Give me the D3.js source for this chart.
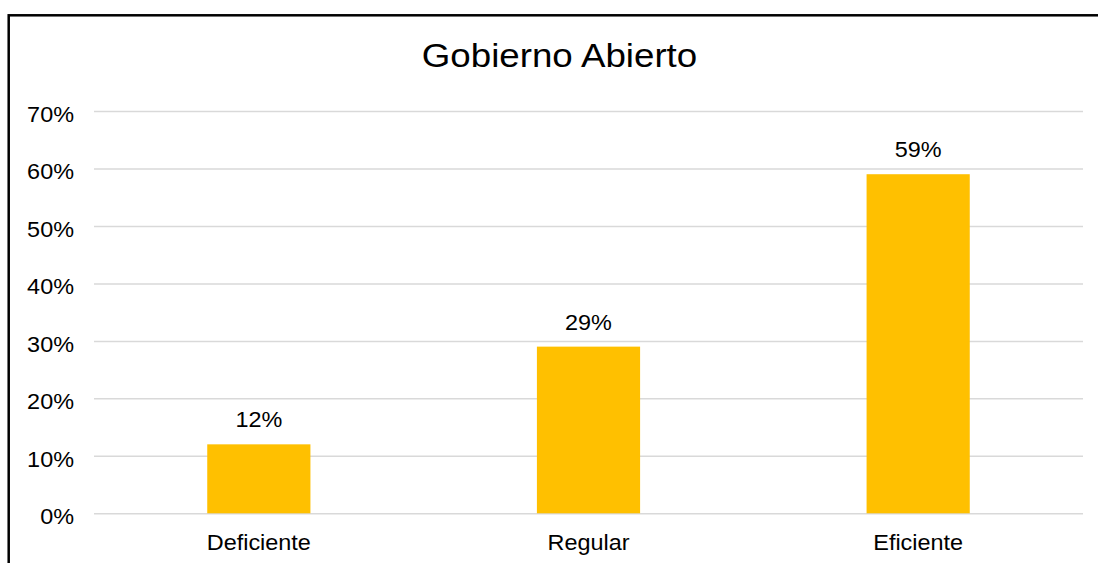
<!DOCTYPE html>
<html>
<head>
<meta charset="utf-8">
<script src="https://cdn.jsdelivr.net/npm/d3@7"></script>
<style>
  body { margin: 0; background: #fff; overflow: hidden; }
  svg { display: block; }
  text { font-family: "Liberation Sans", Arial, sans-serif; fill: #000; }
</style>
</head>
<body>
<div id="wrapper"></div>
<script>
const categories = ["Deficiente", "Regular", "Eficiente"]
const values = [0.12, 0.29, 0.59]
const yTicks = [0, 0.1, 0.2, 0.3, 0.4, 0.5, 0.6, 0.7]
const title = "Gobierno Abierto"

function drawBars () {
    const dimensions = {
        width: 1098,
        height: 563,
        margin: { top: 111, right: 15, bottom: 49.7, left: 94 },
    }
    dimensions.boundedWidth = dimensions.width
        - dimensions.margin.left - dimensions.margin.right
    dimensions.boundedHeight = dimensions.height
        - dimensions.margin.top - dimensions.margin.bottom

    // text in the reference is a bit wider than tall
    const stretch = 1.09

    const wrapper = d3.select("#wrapper")
        .append("svg")
        .attr("width", dimensions.width)
        .attr("height", dimensions.height)

    wrapper.append("rect")
        .attr("width", dimensions.width)
        .attr("height", dimensions.height)
        .attr("fill", "#fff")

    // chart frame (runs off the right and bottom edges)
    wrapper.append("rect")
        .attr("x", 8.7)
        .attr("y", 15.3)
        .attr("width", 1200)
        .attr("height", 700)
        .attr("fill", "none")
        .attr("stroke", "#000")
        .attr("stroke-width", 2.5)

    wrapper.append("text")
        .attr("transform", `translate(559.5, 67.3) scale(1.08, 1)`)
        .attr("text-anchor", "middle")
        .style("font-size", "34px")
        .text(title)

    const bounds = wrapper.append("g")
        .attr("transform", `translate(${dimensions.margin.left}, ${dimensions.margin.top})`)

    const xScale = d3.scaleBand()
        .domain(categories)
        .range([0, dimensions.boundedWidth])
        .paddingInner(0.687)
        .paddingOuter(0.3435)
    const yScale = d3.scaleLinear()
        .domain([0, 0.7])
        .range([dimensions.boundedHeight, 0])

    // gridlines + y labels
    const yAxisGenerator = d3.axisLeft(yScale)
        .tickValues(yTicks)
        .tickFormat(d3.format(".0%"))
        .tickSize(-dimensions.boundedWidth)
        .tickPadding(20)
    const yAxis = bounds.append("g").call(yAxisGenerator)
    yAxis.select(".domain").remove()
    yAxis.selectAll(".tick line")
        .attr("stroke", "#d9d9d9")
        .attr("stroke-width", 1.5)
    yAxis.selectAll(".tick text")
        .attr("x", null)
        .attr("dy", null)
        .attr("y", 10.5)
        .attr("transform", `translate(-20, 0) scale(${stretch}, 1)`)
        .style("font-size", "21.5px")
        .style("font-family", "'Liberation Sans', Arial, sans-serif")
        .attr("fill", "#000")

    bounds.selectAll(".bar")
        .data(values)
        .join("rect")
        .attr("class", "bar")
        .attr("x", (d, i) => xScale(categories[i]))
        .attr("y", d => yScale(d))
        .attr("width", xScale.bandwidth())
        .attr("height", d => dimensions.boundedHeight - yScale(d))
        .attr("fill", "#FFC000")

    bounds.selectAll(".value")
        .data(values)
        .join("text")
        .attr("class", "value")
        .attr("transform", (d, i) => `translate(${xScale(categories[i]) + xScale.bandwidth() / 2}, ${yScale(d) - 17}) scale(${stretch}, 1)`)
        .attr("text-anchor", "middle")
        .style("font-size", "21.5px")
        .text(d => d3.format(".0%")(d))

    bounds.selectAll(".cat")
        .data(categories)
        .join("text")
        .attr("class", "cat")
        .attr("transform", d => `translate(${xScale(d) + xScale.bandwidth() / 2}, ${dimensions.boundedHeight + 36.7}) scale(${stretch}, 1)`)
        .attr("text-anchor", "middle")
        .style("font-size", "21.5px")
        .text(d => d)
}

drawBars()
</script>
</body>
</html>
